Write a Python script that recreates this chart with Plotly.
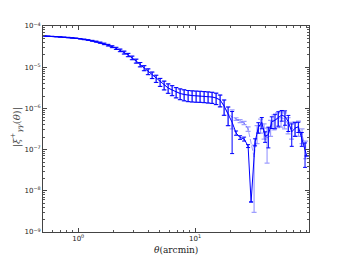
import plotly.graph_objects as go

# ---- data ----
theta_common = [0.512, 0.554, 0.599, 0.649, 0.702, 0.759, 0.821, 0.889, 0.961, 1.040,
                1.125, 1.218, 1.317, 1.425, 1.542, 1.668, 1.805, 1.953, 2.113, 2.286,
                2.473, 2.676, 2.894, 3.132, 3.388, 3.666, 3.966, 4.291, 4.642, 5.022,
                5.433, 5.878, 6.360, 6.881, 7.444, 8.054, 8.714, 9.427, 10.20, 11.03,
                11.94, 12.91, 13.97, 15.12, 16.36, 17.70, 19.15]
xi_common = [5.72e-5, 5.65e-5, 5.59e-5, 5.53e-5, 5.44e-5, 5.35e-5, 5.26e-5, 5.14e-5, 5.03e-5, 4.89e-5,
             4.73e-5, 4.57e-5, 4.37e-5, 4.16e-5, 3.93e-5, 3.68e-5, 3.42e-5, 3.15e-5, 2.86e-5, 2.57e-5,
             2.27e-5, 1.98e-5, 1.69e-5, 1.41e-5, 1.16e-5, 9.56e-6, 7.86e-6, 6.47e-6, 5.32e-6, 4.37e-6,
             3.70e-6, 3.13e-6, 2.80e-6, 2.50e-6, 2.30e-6, 2.18e-6, 2.09e-6, 2.05e-6, 2.02e-6, 2.00e-6,
             1.97e-6, 1.93e-6, 1.89e-6, 1.79e-6, 1.60e-6, 1.14e-6, 7.31e-7]
err_common = [2.9e-7, 2.8e-7, 2.8e-7, 2.8e-7, 2.7e-7, 3.7e-7, 3.7e-7, 5.1e-7, 5.0e-7, 5.9e-7,
              7.1e-7, 8.2e-7, 9.6e-7, 1.12e-6, 1.26e-6, 1.40e-6, 1.54e-6, 1.58e-6, 1.72e-6, 1.80e-6,
              1.82e-6, 1.78e-6, 1.69e-6, 1.55e-6, 1.39e-6, 1.34e-6, 1.26e-6, 1.16e-6, 1.06e-6, 9.6e-7,
              8.9e-7, 8.1e-7, 7.6e-7, 7.0e-7, 6.7e-7, 6.5e-7, 6.3e-7, 6.2e-7, 6.1e-7, 6.0e-7,
              5.9e-7, 5.8e-7, 5.7e-7, 5.5e-7, 5.1e-7, 4.6e-7, 3.5e-7]

theta1_tail = [20.72, 22.41, 24.25, 26.23, 28.38, 30.11, 32.57, 34.75, 37.17, 39.66,
               42.32, 45.25, 48.28, 51.52, 55.08, 58.78, 62.71, 67.06, 71.55, 76.36,
               81.66, 87.13, 90.1]
xi1_tail = [4.6e-7, 2.53e-7, 1.97e-7, 1.81e-7, 1.22e-7, 5.35e-9, 1.53e-7, 3.5e-7, 4.6e-7, 2.1e-7,
            2.3e-7, 4.75e-7, 5.2e-7, 6.0e-7, 6.9e-7, 6.3e-7, 4.75e-7, 2.7e-7, 3.3e-7, 3.6e-7,
            1.9e-7, 9.1e-8, 7.0e-8]
err1_tail = [3.8e-7, 0.3e-7, 0.2e-7, 0.2e-7, 0.1e-7, 0.0, 0.3e-7, 1.0e-7, 1.4e-7, 0.6e-7,
             1.2e-7, 1.5e-7, 2.0e-7, 2.3e-7, 2.0e-7, 2.4e-7, 2.0e-7, 1.5e-7, 1.2e-7, 1.0e-7,
             0.7e-7, 5.4e-8, 0.0]

theta2_tail = [20.72, 22.41, 24.25, 26.23, 28.38, 31.94, 33.88, 36.29, 38.89, 41.25,
               44.19, 47.34, 50.71, 54.33, 58.21, 62.36, 66.81, 71.55, 76.66, 82.13, 87.99]
xi2_tail = [6.18e-7, 5.53e-7, 4.94e-7, 4.42e-7, 3.16e-7, 6.6e-8, 2.6e-7, 4.0e-7, 3.0e-7, 1.9e-7,
            3.6e-7, 5.0e-7, 5.6e-7, 6.0e-7, 5.5e-7, 4.2e-7, 3.2e-7, 3.4e-7, 3.5e-7, 2.3e-7, 1.1e-7]
err2_tail = [3.0e-7, 0.4e-7, 0.4e-7, 0.4e-7, 0.4e-7, 6.3e-8, 1.2e-7, 1.5e-7, 1.2e-7, 1.43e-7,
             1.5e-7, 2.0e-7, 2.2e-7, 2.5e-7, 2.3e-7, 1.8e-7, 1.4e-7, 1.3e-7, 1.4e-7, 0.9e-7, 0.5e-7]

x_tick_vals = [1, 10]
x_tick_text = ["10<sup>0</sup>", "10<sup>1</sup>"]
y_tick_vals = [1e-9, 1e-8, 1e-7, 1e-6, 1e-5, 1e-4]
y_tick_text = ["10<sup>−9</sup>", "10<sup>−8</sup>", "10<sup>−7</sup>",
               "10<sup>−6</sup>", "10<sup>−5</sup>", "10<sup>−4</sup>"]

theta1 = theta_common + theta1_tail
xi1 = xi_common + xi1_tail
err1 = err_common + err1_tail
theta2 = theta_common + theta2_tail
xi2 = xi_common + xi2_tail
err2 = err_common + err2_tail

light = "rgba(0,0,255,0.38)"
dark = "#0000ff"

fig = go.Figure()
fig.add_trace(go.Scatter(
    x=theta2, y=xi2, mode="lines",
    line=dict(color=light, width=1, dash="5px,2px"),
    error_y=dict(type="data", array=err2, visible=True, color=light, thickness=1.2, width=2.5),
    showlegend=False, hoverinfo="skip"))
fig.add_trace(go.Scatter(
    x=theta1, y=xi1, mode="lines",
    line=dict(color=dark, width=1),
    error_y=dict(type="data", array=err1, visible=True, color=dark, thickness=1, width=2),
    showlegend=False, hoverinfo="skip"))

axis_common = dict(
    type="log", showgrid=False, zeroline=False,
    showline=True, linecolor="#444", linewidth=1, mirror="ticks",
    ticks="inside", ticklen=4, tickwidth=1, tickcolor="#444",
    minor=dict(ticks="inside", ticklen=2, tickwidth=1, tickcolor="#555", dtick="D1", showgrid=False),
    tickfont=dict(family="DejaVu Sans", size=7, color="#222"),
)

fig.update_xaxes(range=[-0.301, 1.974], tickvals=x_tick_vals, ticktext=x_tick_text, **axis_common)
fig.update_yaxes(range=[-9, -4], tickvals=y_tick_vals, ticktext=y_tick_text, **axis_common)

# the page body adds an 8px margin, so the figure is 8px smaller and the margins shifted
fig.update_layout(
    width=336, height=250,
    margin=dict(l=35, r=35, t=18, b=26, autoexpand=False),
    paper_bgcolor="white", plot_bgcolor="white",
    annotations=[
        dict(text="<i>θ</i>(arcmin)", xref="paper", yref="paper", x=0.5, y=-0.088,
             xanchor="center", yanchor="middle", showarrow=False,
             font=dict(family="DejaVu Serif", size=9, color="#222")),
        dict(text="|<i>ξ</i><sup>+</sup><sub><i>γγ</i></sub>(<i>θ</i>)|", xref="paper", yref="paper",
             x=-0.1, y=0.51, xanchor="center", yanchor="middle", textangle=-90, showarrow=False,
             font=dict(family="DejaVu Serif", size=10, color="#444")),
    ],
)

fig.write_html("out.html")
